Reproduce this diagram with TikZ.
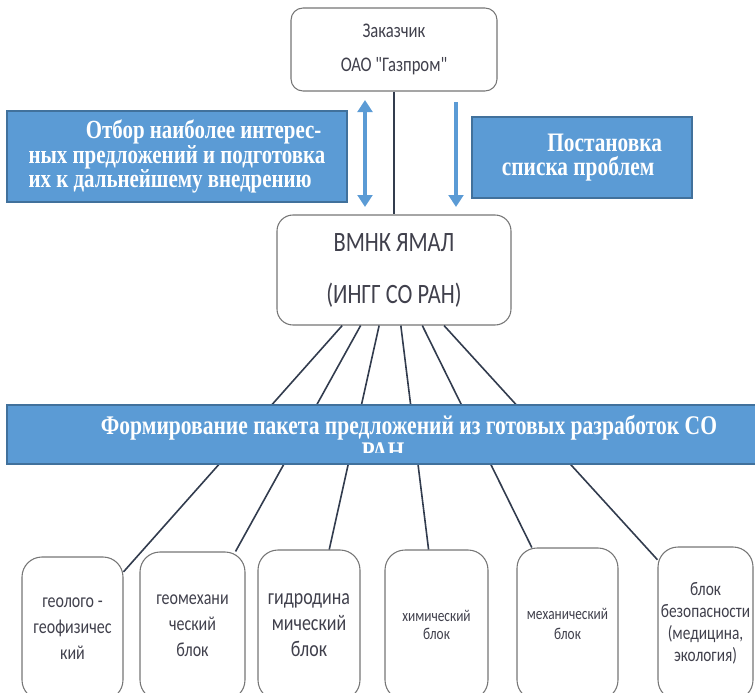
\documentclass[tikz,border=0pt]{standalone}
\usepackage{fontspec}
\setmainfont[FakeStretch=0.8]{Liberation Serif}
\newfontfamily\calibri[FakeStretch=0.8]{Carlito}
\usepackage{xcolor}
\usetikzlibrary{arrows.meta}
\definecolor{officeblue}{RGB}{91,155,213}
\definecolor{blueedge}{RGB}{65,113,156}
\definecolor{inkgray}{RGB}{64,64,76}
\definecolor{rimgray}{RGB}{118,118,118}
\definecolor{linkgray}{RGB}{50,60,78}
\tikzset{
    panel/.style={
        draw=rimgray,
        line width=0.8pt,
        fill=white,
        rounded corners=9pt,
        align=center,
        text=inkgray,
        inner sep=0pt
    },
    blockpanel/.style={
        panel,
        rounded corners=15pt
    },
    bluebox/.style={
        draw=blueedge,
        line width=1.5pt,
        fill=officeblue,
        text=white,
        inner sep=0pt
    },
    link/.style={
        draw=linkgray,
        line width=1.2pt
    },
    blockarrow/.style={
        draw=officeblue,
        line width=3.6pt
    }
}

\begin{document}
\begin{tikzpicture}[x=0.75pt, y=-0.75pt]
  \useasboundingbox (0,0) rectangle (755,692);

  % Customer and coordinating centre
  \node[panel, minimum width=154.5pt, minimum height=62.25pt,
        font=\calibri\fontsize{15.6}{26}\selectfont] (zak) at (394,49.5)
        {Заказчик\\ОАО "Газпром"};
  \node[panel, rounded corners=12pt, minimum width=175.5pt, minimum height=82.5pt,
        font=\calibri\fontsize{21}{39}\selectfont] (vmnk) at (394,270)
        {ВМНК ЯМАЛ\\(ИНГГ СО РАН)};
  \draw[link, line width=0.9pt] (zak) -- (vmnk);

  % Blue side boxes
  \node[bluebox, minimum width=255pt, minimum height=68.25pt, align=left,
        font=\fontsize{19.6}{16.3}\selectfont\bfseries] (otbor) at (177,156.5)
        {\hspace*{43pt}Отбор наиболее интерес-\\ных предложений и подготовка\\их к дальнейшему внедрению};
  \node[bluebox, minimum width=165pt, minimum height=60.75pt, align=left,
        font=\fontsize{20}{18}\selectfont\bfseries] (postan) at (582,157.5)
        {\hspace*{34pt}Постановка\\списка проблем};

  % Arrows between customer and centre
  \coordinate (upT) at (365,100);
  \coordinate (upB) at (365,207);
  \coordinate (dnT) at (456,102);
  \coordinate (dnB) at (456,207);
  \draw[blockarrow, {Triangle[width=11pt,length=9pt]}-{Triangle[width=11pt,length=9pt]}] (upT) -- (upB);
  \draw[blockarrow, -{Triangle[width=11pt,length=9pt]}] (dnT) -- (dnB);

  % Blocks
  \node[blockpanel, minimum width=75.75pt, minimum height=107.25pt,
        font=\calibri\fontsize{15}{19.5}\selectfont] (b1) at (72.5,628.5)
        {геолого -\\геофизичес\\кий};
  \node[blockpanel, minimum width=78.75pt, minimum height=111pt,
        font=\calibri\fontsize{15}{19.5}\selectfont] (b2) at (192.5,626)
        {геомехани\\ческий\\блок};
  \node[blockpanel, minimum width=76.5pt, minimum height=112.5pt,
        font=\calibri\fontsize{16.8}{19.5}\selectfont] (b3) at (309,625)
        {гидродина\\мический\\блок};
  \node[blockpanel, minimum width=77.25pt, minimum height=112.5pt,
        font=\calibri\fontsize{12.5}{13.5}\selectfont] (b4) at (436.5,625)
        {химический\\блок};
  \node[blockpanel, minimum width=75.75pt, minimum height=114pt,
        font=\calibri\fontsize{12.5}{15}\selectfont] (b5) at (567.5,624)
        {механический\\блок};
  \node[blockpanel, minimum width=71.25pt, minimum height=114.75pt,
        font=\calibri\fontsize{14.4}{16.5}\selectfont] (b6) at (705.5,623.5)
        {блок\\безопасности\\(медицина,\\экология)};

  % Centre to blocks
  \draw[link] (vmnk.227.2) -- (b1.48.2);
  \draw[link] (vmnk.239.8) -- (b2.60.3);
  \draw[link] (vmnk.255.7) -- (b3.75.1);
  \draw[link] (vmnk.277.3) -- (b4.96.5);
  \draw[link] (vmnk.297.8) -- (b5.115);
  \draw[link] (vmnk.312.8) -- (b6.127.5);

  % Package band over the links
  \node[bluebox, minimum width=572pt, minimum height=44.25pt] (paket) at (388.5,434.5) {};
  \begin{scope}
    \clip (7,405) rectangle (755,452);
    \node[text=white, align=center, inner sep=0pt,
          font=\fontsize{20.2}{19}\selectfont\bfseries] (paketlbl) at (383,438)
          {\hspace*{39pt}Формирование пакета предложений из готовых разработок СО\\РАН};
  \end{scope}
\end{tikzpicture}
\end{document}
